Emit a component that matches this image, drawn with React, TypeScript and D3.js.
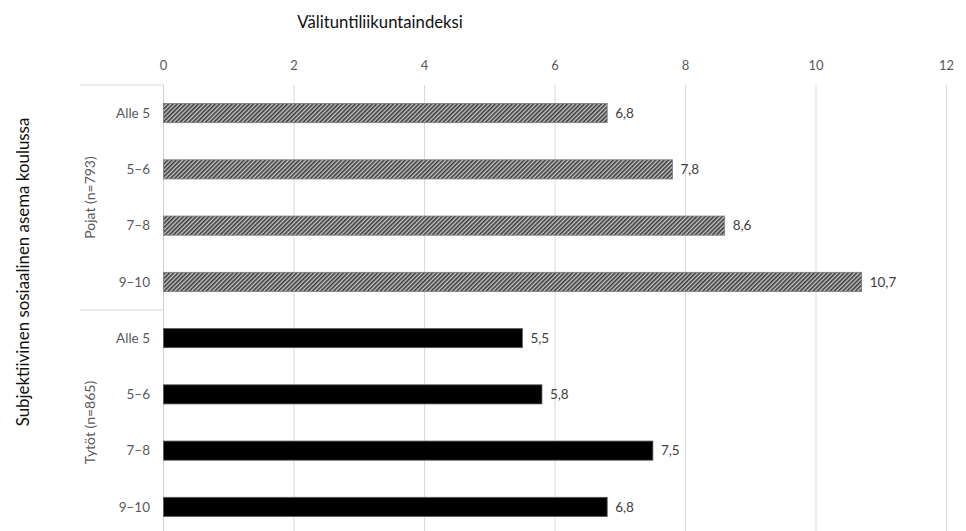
import React from "react";
import * as d3 from "d3";

const groups = ["Pojat (n=793)", "Tytöt (n=865)"];
const categories = ["Alle 5", "5–6", "7–8", "9–10"];
const boysValues = [6.8, 7.8, 8.6, 10.7];
const girlsValues = [5.5, 5.8, 7.5, 6.8];
const xTicks = [0, 2, 4, 6, 8, 10, 12];
const xTitle = "Välituntiliikuntaindeksi";
const yTitle = "Subjektiivinen sosiaalinen asema koulussa";

const W = 966;
const H = 531;
const FONT = "Lato, 'Open Sans', sans-serif";

export default function App() {
  const rows = [
    ...categories.map((c, i) => ({ key: `g0-${i}`, group: 0, cat: c, value: boysValues[i] })),
    ...categories.map((c, i) => ({ key: `g1-${i}`, group: 1, cat: c, value: girlsValues[i] })),
  ];
  const x = d3.scaleLinear().domain([0, 12]).range([163.5, 946.5]);
  const y = d3
    .scaleBand<string>()
    .domain(rows.map((r) => r.key))
    .range([85, 535])
    .paddingInner(0.66)
    .paddingOuter(0.33);
  const step = y.step();
  const fmt = (v: number) => v.toFixed(1).replace(".", ",");

  return (
    <svg width={W} height={H} style={{ position: "absolute", left: 0, top: 0, background: "#fff" }}>
      <defs>
        <pattern id="hatch" patternUnits="userSpaceOnUse" width="3" height="3" patternTransform="rotate(45)">
          <rect width="3" height="3" fill="#c8c8c8" />
          <rect width="1.6" height="3" fill="#3a3a3a" />
        </pattern>
      </defs>
      {/* title */}
      <text x={380} y={28} textAnchor="middle" fontFamily={FONT} fontSize={16.7} fill="#111">
        {xTitle}
      </text>
      {/* gridlines */}
      {xTicks.map((t) => (
        <g key={t}>
          <line x1={x(t)} x2={x(t)} y1={85} y2={H} stroke={t === 0 ? "#d0d0d0" : "#d9d9d9"} strokeWidth={1} />
          <text x={x(t)} y={70} textAnchor="middle" fontFamily={FONT} fontSize={13} fill="#595959">
            {t}
          </text>
        </g>
      ))}
      {/* group separator lines */}
      {[0, 4].map((i) => (
        <line key={i} x1={80} x2={x(0)} y1={85 + i * step} y2={85 + i * step} stroke="#d9d9d9" strokeWidth={1} />
      ))}
      {/* group labels */}
      {groups.map((g, gi) => {
        const cy = 85 + (gi * 4 + 2) * step;
        return (
          <text
            key={g}
            transform={`translate(90,${cy}) rotate(-90)`}
            textAnchor="middle"
            dy="0.35em"
            fontFamily={FONT}
            fontSize={14}
            fill="#595959"
          >
            {g}
          </text>
        );
      })}
      {/* y title */}
      <text
        transform={`translate(23,${272}) rotate(-90)`}
        textAnchor="middle"
        dy="0.35em"
        fontFamily={FONT}
        fontSize={16.9}
        fill="#111"
      >
        {yTitle}
      </text>
      {/* bars */}
      {rows.map((r) => {
        const by = y(r.key)!;
        const bh = y.bandwidth();
        return (
          <g key={r.key}>
            <rect
              x={x(0)}
              y={by}
              width={x(r.value) - x(0)}
              height={bh}
              fill={r.group === 0 ? "url(#hatch)" : "#000"}
              stroke={r.group === 0 ? "#7a7a7a" : "#595959"}
              strokeWidth={0.8}
            />
            <text x={150} y={by + bh / 2} dy="0.35em" textAnchor="end" fontFamily={FONT} fontSize={13.5} fill="#595959">
              {r.cat}
            </text>
            <text
              x={x(r.value) + 8}
              y={by + bh / 2}
              dy="0.35em"
              textAnchor="start"
              fontFamily={FONT}
              fontSize={13.5}
              fill="#404040"
            >
              {fmt(r.value)}
            </text>
          </g>
        );
      })}
    </svg>
  );
}
